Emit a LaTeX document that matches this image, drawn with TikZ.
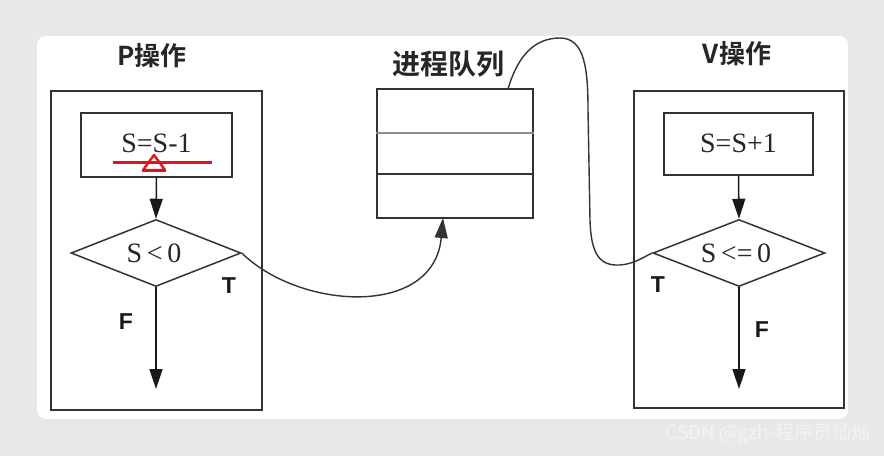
\documentclass[tikz,border=0pt]{standalone}
\usepackage{fontspec}
\setmainfont{Liberation Serif}
\newfontfamily\cjkb{Noto Sans CJK SC Bold}
\newfontfamily\cjkr{Noto Sans CJK SC}
\newfontfamily\sfont{Liberation Sans}
\usetikzlibrary{arrows.meta,shapes.geometric}
\definecolor{bgc}{HTML}{E8E8E8}
\definecolor{linec}{HTML}{333333}
\definecolor{redc}{HTML}{E0141E}
\definecolor{wmc}{HTML}{F3F3F3}
\begin{document}
\begin{tikzpicture}[x=1pt,y=-1pt,
  box/.style={draw=linec,line width=2pt,inner sep=0pt},
  dia/.style={draw=linec,line width=1.5pt,diamond,inner sep=0pt},
  title/.style={font=\cjkb\fontsize{26}{30}\selectfont,text=black!85},
  expr/.style={font=\fontsize{28}{30}\selectfont,text=black!85},
  lab/.style={font=\sfont\bfseries\fontsize{23}{26}\selectfont,text=black!90},
  tip/.style={-{Triangle[length=20pt,width=13pt]}},
  arr/.style={draw=black!90,line width=1.5pt,tip},
  crv/.style={draw=linec,line width=1.4pt}]
\useasboundingbox (0,0) rectangle (884,456);
\fill[bgc] (0,0) rectangle (884,456);
\fill[white,rounded corners=9pt] (37,36) rectangle (848,419);

% titles
\node[title] (tP) at (152,56) {P操作};
\node[title,font=\cjkb\fontsize{28}{32}\selectfont] (tQ) at (448,64) {进程队列};
\node[title] (tV) at (737,54) {V操作};

% P operation
\node[box,minimum width=211pt,minimum height=319pt] (P) at (156.5,250.5) {};
\node[box,minimum width=151pt,minimum height=64pt] (Ps) at (156.5,145) {};
\node[expr] (Pst) at (156.5,143) {S=S-1};
\node[dia,minimum width=170pt,minimum height=67pt] (Pd) at (156,253) {};
\node[expr] (Pdt) at (154,253) {S\,<\,0};
\node[lab] (PT) at (229,286) {T};
\node[lab] (PF) at (126,322) {F};
\coordinate (Pend) at (156,389);
\draw[arr] (Ps.south) -- (Pd.north);
\draw[arr] (Pd.south) -- (Pend);

% red mark
\coordinate (r1) at (113,162);
\coordinate (r2) at (212,162);
\draw[redc,line width=3pt] (r1) -- (r2);
\draw[redc,line width=2.4pt,line join=round] (154,155) -- (165,170) -- (143,170) -- cycle;
\draw[redc,line width=3.5pt] (142,170.5) -- (166,170.5);

% queue
\node[box,minimum width=156pt,minimum height=129pt] (Q) at (455,153.5) {};
\draw[draw=black!45,line width=1.6pt] (Q.west |- 0,133) -- (Q.east |- 0,133);
\draw[box] (Q.west |- 0,174) -- (Q.east |- 0,174);
\coordinate (qin) at (443,218);
\coordinate (qout) at (508,89);

% V operation
\node[box,minimum width=210pt,minimum height=317pt] (V) at (739,249.5) {};
\node[box,minimum width=149pt,minimum height=62pt] (Vs) at (738.5,144) {};
\node[expr] (Vst) at (738.5,143) {S=S+1};
\node[dia,minimum width=172pt,minimum height=67pt] (Vd) at (739,253) {};
\node[expr] (Vdt) at (736,253) {S\,<=\,0};
\node[lab] (VT) at (658,285) {T};
\node[lab] (VF) at (762,330) {F};
\coordinate (Vend) at (739,389);
\draw[arr] (Vs.south) -- (Vd.north);
\draw[arr] (Vd.south) -- (Vend);

% connecting curves
\draw[crv,tip] (Pd.east) .. controls (300,310) and (434,318) .. (qin);
\draw[crv] (qout) .. controls (518,55) and (535,38) .. (560,38)
  .. controls (585,38) and (588,70) .. (588,110) -- (590,220)
  .. controls (591,255) and (600,266) .. (620,265)
  .. controls (635,264) and (645,256) .. (Vd.west);

% watermark
\node[font=\cjkr\fontsize{19}{22}\selectfont,text=wmc] (wm) at (768,434) {CSDN @gzh-程序员灿灿};
\end{tikzpicture}
\end{document}
